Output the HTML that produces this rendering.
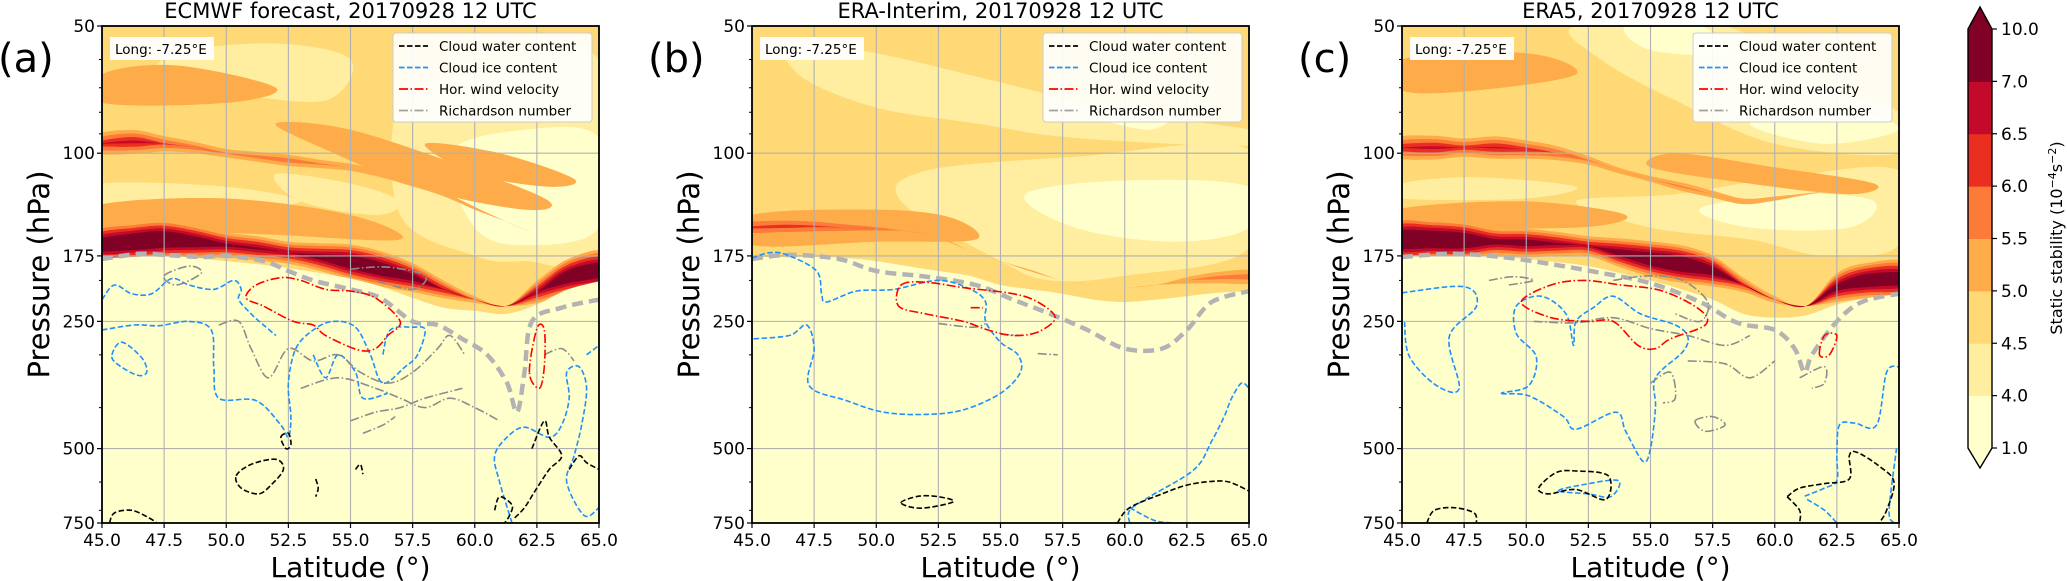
<!DOCTYPE html>
<html><head><meta charset="utf-8"><title>Static stability cross-sections</title>
<style>
html,body{margin:0;padding:0;background:#fff;}
svg{display:block;font-family:"DejaVu Sans","Liberation Sans",sans-serif;}
</style></head>
<body>
<svg id="fig" width="2067" height="581" viewBox="0 0 2067 581" xmlns="http://www.w3.org/2000/svg"></svg>
<script>
// ---------- shared data ----------
const latGrid = [45,46.25,47.5,48.75,50,51.25,52.5,53.75,55,56.25,57.5,58.75,60,61.25,62.5,63.75,65];
const xTicks = [45.0,47.5,50.0,52.5,55.0,57.5,60.0,62.5,65.0];
const yTicks = [50,100,175,250,500,750];
const yMinor = [60,70,80,90,200,300,400,600,700];
const cbBounds = [1.0,4.0,4.5,5.0,5.5,6.0,6.5,7.0,10.0];
const cbColors = ['#ffffcc','#ffeda0','#fed976','#feab49','#fc7b38','#ea2f21','#c40a2a','#800026'];
const bandThresholds = [5.0,5.5,6.0,6.5,7.0];

// ---------- panel (a) ECMWF ----------
const aJetP    = [165,162,160,162,165,168,172,176,181,188,197,210,222,230,213,196,188];
const aJetPeak = [8.0,8.5,8.5,8.0,7.3,7.2,7.0,7.5,8.2,8.2,7.6,6.6,5.6,5.0,7.0,8.2,8.2];
const aUpP     = [95,94,95,97,100,102,104,106,108,112,118,125,135,145,155,160,165];
const aUpPeak  = [6.3,6.7,6.1,5.8,5.6,5.7,5.8,5.6,5.5,5.5,5.4,5.3,5.2,5.0,5.0,5.0,5.0];
const aTropoP  = [178,176,175,177,180,183,187,192,198,207,220,232,236,240,228,210,200];
const aLight   = [[[48,58],[52,55],[55,60],[54,75],[50,72],[47,68]],[[57,75],[60,65],[65,60],[65,170],[62,180],[60,175],[57,140]],[[45,118],[50,120],[53,130],[50,135],[45,132]],[[52,112],[55,118],[57,130],[56,140],[53,130]]];
const aPale    = [[[59,100],[62,88],[65,92],[65,150],[62,165],[60,150]]];
const aMid     = [[[52,85],[55,88],[60,110],[63,130],[62,136],[58,122],[54,98]],[[45,65],[48,62],[52,70],[50,76],[45,76]],[[45,132],[50,128],[55,140],[57,160],[52,156],[45,148]],[[58,95],[61,100],[64,115],[63,120],[60,112]]];
const aIce   = [[[45,262],[46.3,255],[47.3,256],[48.5,250],[49.4,262],[49.5,320],[49.7,380],[51.2,385],[52.2,440],[52.5,470],[52.6,420],[52.5,350],[52.8,290],[53.5,262],[54.3,250],[55.2,258],[55.8,300],[56.3,350],[57.2,320],[57.7,300],[58,262],[57.5,258],[56.6,262],[56.3,300]],[[45.4,300],[45.8,280],[46.6,305],[46.8,330],[46.4,335],[45.6,315],[45.4,300]],[[45,222],[45.5,205],[46.2,215],[47,215],[47.8,198],[48.5,205],[49.5,210],[50.3,200],[50.6,210],[50.5,222],[51,240],[51.5,255],[52,270]],[[61.5,750],[61,600],[60.8,520],[61.3,470],[62,445],[63,470],[63.5,440],[63.8,380],[63.7,330],[64.2,320],[64.5,360],[64.3,440],[64,520],[63.7,600],[64.4,720],[65,690]],[[64.5,300],[65,285]],[[53.5,300],[54,340],[54.5,300],[55.2,330],[55.5,380],[56.5,370]]];
const aWater = [[[45.3,750],[45.5,710],[46.2,700],[46.9,730],[47.2,750]],[[50.4,580],[51,545],[52,530],[52.3,560],[51.8,610],[51.3,640],[50.6,620],[50.4,580]],[[52.2,470],[52.5,460],[52.6,490],[52.4,500],[52.2,470]],[[53.6,590],[53.7,620],[53.6,650]],[[55.2,560],[55.4,545],[55.5,575]],[[60.8,700],[61,650],[61.5,680],[61.4,720],[61.2,750]],[[62.3,500],[62.8,430],[63,470],[63.5,520],[63,560],[62.5,620],[62,690],[61.6,730]],[[63.8,560],[64.2,520],[64.5,540],[65,560]]];
const aWind  = [[[51.2,205],[52.2,197],[53,200],[54,210],[55,212],[56,220],[57,250],[56.5,270],[56,290],[55.3,292],[54,270],[53.5,255],[52.7,250],[51.5,230],[50.8,220],[51.2,205]],[[62.2,330],[62.5,260],[62.8,262],[62.8,320],[62.6,360],[62.2,330]]];
const aRich  = [[[47.5,195],[48.5,185],[49,192],[48,205],[47.5,195]],[[55,188],[56.5,186],[58,195],[57.5,210],[56,200]],[[49.7,255],[50.5,250],[51,290],[51.7,340],[52.5,290],[53.5,310],[54.5,300],[55.4,330],[56.5,350],[57.5,330],[58.5,290],[59,270],[59.6,300]],[[53,360],[54.5,340],[56,360],[57,380],[58,400],[59,380],[60,400],[61,430]],[[55,430],[56,410],[57,400],[58,380],[59.5,360]],[[55.5,460],[56.3,440],[56.8,420]],[[62.8,300],[63.5,290],[64,310]]];
const aTropoLine = [[45,178],[46.5,173],[47.5,174],[49,176],[50,175],[51.5,180],[52.5,190],[53.5,200],[55,210],[56.2,220],[57.5,250],[58.5,255],[59.5,275],[60.5,300],[61.3,350],[61.7,410],[62,330],[62.3,250],[63.5,232],[65,222]];

// ---------- panel (b) ERA-Interim ----------
const bJetP    = [150,149,149,150,151,153,158,170,180,190,200,205,208,205,200,197,196];
const bJetPeak = [6.1,6.2,6.1,5.9,5.7,5.5,5.2,4.9,5.0,5.1,4.9,4.6,4.5,4.8,5.4,5.7,5.8];
const bUpP     = [100,100,100,100,100,100,100,100,100,100,100,100,100,100,100,100,100];
const bUpPeak  = [4,4,4,4,4,4,4,4,4,4,4,4,4,4,4,4,4];
const bTropoP  = [176,176,176,177,180,185,190,195,205,210,215,222,225,222,218,214,212];
const bLight   = [[[46.5,55],[50,58],[55,68],[60,80],[65,88],[65,96],[58,92],[54,85],[50,78],[47,66]],[[52,110],[58,102],[65,98],[65,168],[60,195],[57,200],[55,180],[51,130]]];
const bPale    = [[[56,125],[60,116],[65,120],[65,150],[62,162],[58,150]],[[59,82],[62,80],[61,88]]];
const bMid     = [[[45,140],[50,136],[53,142],[54,160],[50,162],[45,165]]];
const bIce   = [[[45,177],[45.7,172],[46.4,174],[47.6,190],[47.8,215],[48,225],[49.2,212],[50.7,210],[52.5,200],[53.8,210],[54.4,225],[54.4,250],[55,280],[55.7,300],[55.8,330],[55,370],[53.5,405],[52,415],[50.3,410],[48.8,385],[47.3,355],[47.5,290],[47.2,255],[46.5,270],[45,275]],[[60.2,750],[60.2,700],[61,650],[62.8,560],[63.5,480],[64,420],[64.3,380],[64.7,350],[65,360]],[[60.2,690],[61.2,740],[62,750]]];
const bWater = [[[51,672],[51.7,648],[52.5,650],[53.1,668],[51.8,692],[51,672]],[[59.7,750],[60.2,690],[61.5,640],[62.5,610],[63.5,598],[64.2,600],[65,630]]];
const bWind  = [[[51,205],[52,202],[53.5,208],[55.5,215],[56.5,225],[57.2,245],[56.5,265],[55.5,270],[54.5,262],[53.5,250],[52,240],[50.9,230],[51,205]],[[53.8,232],[54.3,232]]];
const bRich  = [[[52.5,253],[53.9,258],[54.4,253]],[[55,268],[55.8,270]],[[56.5,298],[57.3,300]]];
const bTropoLine = [[45,178],[46.5,174],[48.5,178],[50,190],[52,196],[54,205],[55.5,222],[57,240],[58.5,262],[60,290],[61.5,290],[62.5,262],[63.5,225],[65,212]];

// ---------- panel (c) ERA5 ----------
const cJetP    = [160,160,161,162,163,164,166,172,178,183,190,205,222,230,208,200,198];
const cJetPeak = [8.5,8.6,8.4,7.5,7.6,7.2,6.8,7.6,8.2,8.4,7.8,6.3,5.6,5.0,7.6,8.2,8.0];
const cUpP     = [97,97,97,97,98,100,104,110,115,120,125,130,128,125,122,120,118];
const cUpPeak  = [6.4,6.7,6.3,6.6,6.3,6.0,5.6,5.4,5.4,5.6,5.5,5.4,5.3,5.1,5.0,5.0,5.0];
const cTropoP  = [176,175,175,176,178,181,185,192,200,210,222,240,245,242,228,220,215];
const cLight   = [[[52,50],[58,50],[62,70],[65,80],[65,100],[60,95],[56,75],[53,60]],[[52,130],[56,125],[60,115],[65,110],[65,165],[62,175],[59,160],[55,150]],[[45,118],[48,114],[52,120],[50,128],[45,128]]];
const cPale    = [[[54,50],[57,50],[58,58],[55,57]],[[57,135],[61,125],[64,130],[63,150],[59,150]],[[59,85],[63,80],[65,88],[62,95]]];
const cMid     = [[[45,60],[50,58],[52,65],[48,71],[45,71]],[[56,100],[60,108],[64,118],[63,125],[59,118],[55,108]],[[45,135],[50,130],[54,140],[52,150],[45,148]]];
const cIce   = [[[45,214],[47.5,207],[48,230],[46.9,272],[47.3,360],[46.4,355],[45.3,303],[45.1,251]],[[49,370],[50.1,375],[51.5,420],[52,450],[53.6,410],[54,455],[54.7,536],[55,500],[55.2,400],[55.2,340],[56.3,295],[56.5,272],[56,255],[54.6,240],[53.5,218],[52.7,232],[52,250],[51.9,285],[51.6,240],[50.6,218],[49.6,230],[49.6,267],[50.4,303],[50.1,355],[49,370]],[[51.3,630],[52.2,610],[53.7,595],[53.4,650],[52.5,640],[51.3,630]],[[61.2,648],[62,620],[62.5,595],[62.5,520],[62.6,440],[63.2,435],[64.1,440],[64.5,330],[65,320]],[[61.3,660],[62,700],[62.5,750]],[[64.8,750],[64.6,700],[64.9,500]]];
const cWater = [[[46,750],[46.3,700],[47.1,690],[47.9,710],[48,750]],[[50.5,620],[51.2,570],[52,565],[53.3,580],[53.2,660],[52,625],[50.9,640],[50.5,620]],[[60.5,650],[61,620],[62,605],[63,590],[63,520],[63.3,510],[64.2,550],[64.8,600],[64.5,700],[64.2,750]],[[60.5,650],[61,700],[61,750]]];
const cWind  = [[[49.8,225],[51,205],[52.3,200],[53.8,205],[55.5,212],[57,235],[57.2,255],[55.8,275],[55.2,290],[54.5,285],[53.5,250],[52.5,250],[51,245],[49.8,225]],[[61.8,300],[62,270],[62.5,270],[62.2,300],[61.8,300]]];
const cRich  = [[[48.5,200],[49.5,196],[50.3,200],[49.3,205]],[[53.5,200],[55,195],[56.3,200],[57.3,225],[57,250],[56,240]],[[50.3,250],[52,252],[53.5,245],[55,260],[56.5,270],[58,285],[59,270]],[[56.5,310],[58,315],[59,340],[60,310]],[[55,350],[55.8,330],[56,380],[55.5,390]],[[56.8,430],[57.5,420],[58,440],[57.2,455],[56.8,430]],[[61,340],[62,320],[62,350],[61.5,360]]];
const cTropoLine = [[45,176],[47,173],[49,176],[51,183],[53,192],[55,203],[57,225],[58.5,252],[60,262],[60.8,290],[61.2,330],[61.5,300],[62.5,250],[63.5,225],[65,215]];

const panelTitles = ['ECMWF forecast, 20170928 12 UTC','ERA-Interim, 20170928 12 UTC','ERA5, 20170928 12 UTC'];
const panelLetters = ['(a)','(b)','(c)'];
const legendLabels = ['Cloud water content','Cloud ice content','Hor. wind velocity','Richardson number'];

// ---------- drawing ----------
const NS='http://www.w3.org/2000/svg';
const svg=document.getElementById('fig');
const PW=497, PT=26, PH=497;
function mk(tag,attrs,parent){const e=document.createElementNS(NS,tag);for(const k in attrs)e.setAttribute(k,attrs[k]);(parent||svg).appendChild(e);return e;}
function yOf(p){return PT+Math.log10(p/50)/Math.log10(15)*PH;}
function crPath(pts,closed){
  const n=pts.length; if(n<2)return '';
  let d='M'+pts[0][0].toFixed(1)+','+pts[0][1].toFixed(1);
  const g=i=>closed?pts[(i+n)%n]:pts[Math.max(0,Math.min(n-1,i))];
  const last=closed?n:n-1;
  for(let i=0;i<last;i++){
    const p0=g(i-1),p1=g(i),p2=g(i+1),p3=g(i+2);
    const c1=[p1[0]+(p2[0]-p0[0])/6,p1[1]+(p2[1]-p0[1])/6];
    const c2=[p2[0]-(p3[0]-p1[0])/6,p2[1]-(p3[1]-p1[1])/6];
    d+='C'+c1[0].toFixed(1)+','+c1[1].toFixed(1)+' '+c2[0].toFixed(1)+','+c2[1].toFixed(1)+' '+p2[0].toFixed(1)+','+p2[1].toFixed(1);
  }
  return closed?d+'Z':d;
}

const panels=[
 {x0:102,jetP:aJetP,jetPk:aJetPeak,upP:aUpP,upPk:aUpPeak,tropo:aTropoP,light:aLight,pale:aPale,mid:aMid,ice:aIce,water:aWater,wind:aWind,rich:aRich,tline:aTropoLine,k:5.5,kUp:7},
 {x0:752,jetP:bJetP,jetPk:bJetPeak,upP:bUpP,upPk:bUpPeak,tropo:bTropoP,light:bLight,pale:bPale,mid:bMid,ice:bIce,water:bWater,wind:bWind,rich:bRich,tline:bTropoLine,k:8,kUp:7},
 {x0:1402,jetP:cJetP,jetPk:cJetPeak,upP:cUpP,upPk:cUpPeak,tropo:cTropoP,light:cLight,pale:cPale,mid:cMid,ice:cIce,water:cWater,wind:cWind,rich:cRich,tline:cTropoLine,k:5.5,kUp:7}
];

panels.forEach((P,pi)=>{
  const xOf=lat=>P.x0+(lat-45)/20*PW;
  const g=mk('g',{});
  
  
  const defs=mk('defs',{},g);
  const clip=mk('clipPath',{id:'clip'+pi},defs);
  mk('rect',{x:P.x0,y:PT,width:PW,height:PH},clip);
  const plot=mk('g',{'clip-path':'url(#clip'+pi+')'},g);
  
  
  const base=mk('rect',{x:P.x0,y:PT,width:PW,height:PH,fill:cbColors[2]},plot);
  
  
  P.light.forEach(poly=>{
    const e=mk('path',{d:crPath(poly.map(q=>[xOf(q[0]),yOf(q[1])]),true),fill:cbColors[1]},plot);
    
    
  });
  P.pale.forEach(poly=>{
    const e=mk('path',{d:crPath(poly.map(q=>[xOf(q[0]),yOf(q[1])]),true),fill:cbColors[0]},plot);
    
    
  });
  P.mid.forEach(poly=>{
    const e=mk('path',{d:crPath(poly.map(q=>[xOf(q[0]),yOf(q[1])]),true),fill:cbColors[3]},plot);
    
    
  });
  [[P.upP,P.upPk,'upper-band',P.kUp],[P.jetP,P.jetPk,'tropopause-band',P.k]].forEach(([cp,pk,nm,kk])=>{
    bandThresholds.forEach((thr,li)=>{
      if(Math.max(...pk)<=thr)return;
      const up=[],lo=[];
      latGrid.forEach((lat,i)=>{
        const hw=Math.max(0,pk[i]-thr)*kk;
        const x=xOf(lat),y=yOf(cp[i]);
        up.push([x,y-hw]);lo.push([x,y+hw]);
      });
      up[0][0]-=6;lo[0][0]-=6;up[up.length-1][0]+=6;lo[lo.length-1][0]+=6;
      const pts=up.concat(lo.reverse());
      const e=mk('path',{d:crPath(pts,true),fill:cbColors[3+li]},plot);
      
      
    });
  });
  const tp=latGrid.map((lat,i)=>[xOf(lat),yOf(P.tropo[i])]);
  tp[0][0]-=4; tp[tp.length-1][0]+=4;
  let d=crPath(tp,false)+'L'+(P.x0+PW+5)+','+(PT+PH+5)+'L'+(P.x0-5)+','+(PT+PH+5)+'Z';
  const tro=mk('path',{d:d,fill:cbColors[0]},plot);
  
  
  xTicks.forEach(t=>{const e=mk('line',{x1:xOf(t),x2:xOf(t),y1:PT,y2:PT+PH,stroke:'#b0b0b0','stroke-width':1.1},plot);
    });
  yTicks.forEach(t=>{const e=mk('line',{x1:P.x0,x2:P.x0+PW,y1:yOf(t),y2:yOf(t),stroke:'#b0b0b0','stroke-width':1.1},plot);
    });
  const drawSet=(set,color,dash,w,nm)=>set.forEach(line=>{
    const closed=line.length>3&&line[0][0]===line[line.length-1][0]&&line[0][1]===line[line.length-1][1];
    const pts=line.map(q=>[xOf(q[0]),yOf(q[1])]);
    if(closed)pts.pop();
    const e=mk('path',{d:crPath(pts,closed),fill:'none',stroke:color,'stroke-width':w,'stroke-dasharray':dash},plot);
    
    
  });
  drawSet([P.tline],'#b3b3b3','11,6',4.5,'tropopause-line');
  drawSet(P.ice,'#1e90ff','5.5,2.5',1.6,'cloud-ice-contour');
  drawSet(P.water,'#000000','5.5,2.5',1.6,'cloud-water-contour');
  drawSet(P.rich,'#8c8c8c','9,2.5,1.5,2.5',1.6,'richardson-contour');
  drawSet(P.wind,'#ff0000','9,2.5,1.5,2.5',1.6,'wind-contour');
  const fr=mk('rect',{x:P.x0,y:PT,width:PW,height:PH,fill:'none',stroke:'#000','stroke-width':1.8},g);
  
  xTicks.forEach(t=>{
    const x=xOf(t);
    const tk=mk('line',{x1:x,x2:x,y1:PT+PH,y2:PT+PH+5,stroke:'#000','stroke-width':1.2},g);
    
    const tx=mk('text',{x:x,y:546,'font-size':17,'text-anchor':'middle',fill:'#000'},g);
    tx.textContent=t.toFixed(1);
    
  });
  yTicks.forEach(t=>{
    const y=yOf(t);
    const tk=mk('line',{x1:P.x0-5,x2:P.x0,y1:y,y2:y,stroke:'#000','stroke-width':1.2},g);
    
    const tx=mk('text',{x:P.x0-7,y:y+6,'font-size':17,'text-anchor':'end',fill:'#000'},g);
    tx.textContent=String(t);
    
  });
  yMinor.forEach(t=>{
    const y=yOf(t);
    const tk=mk('line',{x1:P.x0-3,x2:P.x0,y1:y,y2:y,stroke:'#000','stroke-width':1},g);
    
  });
  const ti=mk('text',{x:P.x0+PW/2,y:18,'font-size':21,'text-anchor':'middle',fill:'#000'},g);
  ti.textContent=panelTitles[pi];
  
  const le=mk('text',{x:P.x0-104,y:72,'font-size':40,fill:'#000'},g);
  le.textContent=panelLetters[pi];
  
  const xl=mk('text',{x:P.x0+PW/2,y:577,'font-size':28,'text-anchor':'middle',fill:'#000'},g);
  xl.textContent='Latitude (°)';
  
  const yl=mk('text',{x:0,y:0,'font-size':29,'text-anchor':'middle',fill:'#000',transform:'translate('+(P.x0-53)+','+(PT+PH/2)+') rotate(-90)'},g);
  yl.textContent='Pressure (hPa)';
  
  const lb=mk('g',{},g);
  
  mk('rect',{x:P.x0+8,y:37,width:104,height:23,fill:'#fff',opacity:0.95},lb);
  const lt=mk('text',{x:P.x0+13,y:54,'font-size':13.5,fill:'#000'},lb);
  lt.textContent='Long: -7.25°E';
  const lg=mk('g',{},g);
  
  mk('rect',{x:P.x0+PW-206,y:33,width:199,height:89,rx:3,fill:'#fff','fill-opacity':0.9,stroke:'#cccccc','stroke-width':1},lg);
  const lc=['#000000','#1e90ff','#ff0000','#a0a0a0'];
  const ld=['5.5,2.5','5.5,2.5','9,2.5,1.5,2.5','9,2.5,1.5,2.5'];
  legendLabels.forEach((lab,i)=>{
    const ey=46+i*21.5;
    const ent=mk('g',{},lg);
    
    
    mk('line',{x1:P.x0+PW-200,x2:P.x0+PW-171,y1:ey,y2:ey,stroke:lc[i],'stroke-width':1.8,'stroke-dasharray':ld[i]},ent);
    const t=mk('text',{x:P.x0+PW-160,y:ey+5,'font-size':13.5,fill:'#000'},ent);
    t.textContent=lab;
  });
});

// ---------- colorbar ----------
const cb=mk('g',{});


const cbX=1968,cbW=24,cbTop=29,cbBot=448;
const seg=(cbBot-cbTop)/(cbBounds.length-1);
cbColors.forEach((c,i)=>{
  const y2=cbBot-i*seg;
  const r=mk('rect',{x:cbX,y:y2-seg,width:cbW,height:seg+0.5,fill:c},cb);
  
  
});
const tri1=mk('path',{d:`M${cbX},${cbTop}L${cbX+cbW/2},${cbTop-22}L${cbX+cbW},${cbTop}Z`,fill:cbColors[7]},cb);

const tri2=mk('path',{d:`M${cbX},${cbBot}L${cbX+cbW/2},${cbBot+20}L${cbX+cbW},${cbBot}Z`,fill:cbColors[0]},cb);

mk('path',{d:`M${cbX},${cbTop}L${cbX+cbW/2},${cbTop-22}L${cbX+cbW},${cbTop}L${cbX+cbW},${cbBot}L${cbX+cbW/2},${cbBot+20}L${cbX},${cbBot}Z`,fill:'none',stroke:'#000','stroke-width':1.4},cb);
cbBounds.forEach((v,i)=>{
  const y=cbBot-i*seg;
  mk('line',{x1:cbX+cbW,x2:cbX+cbW+5,y1:y,y2:y,stroke:'#000','stroke-width':1.2},cb);
  const t=mk('text',{x:cbX+cbW+9,y:y+6,'font-size':17,fill:'#000'},cb);
  t.textContent=v.toFixed(1);
  
  
});
const cl=mk('text',{x:0,y:0,'font-size':16,'text-anchor':'middle',fill:'#000',transform:'translate(2062,238) rotate(-90)'},cb);


cl.innerHTML='Static stability (10<tspan dy="-6" font-size="11">−4</tspan><tspan dy="6">s</tspan><tspan dy="-6" font-size="11">−2</tspan><tspan dy="6">)</tspan>';
</script>
</body></html>
